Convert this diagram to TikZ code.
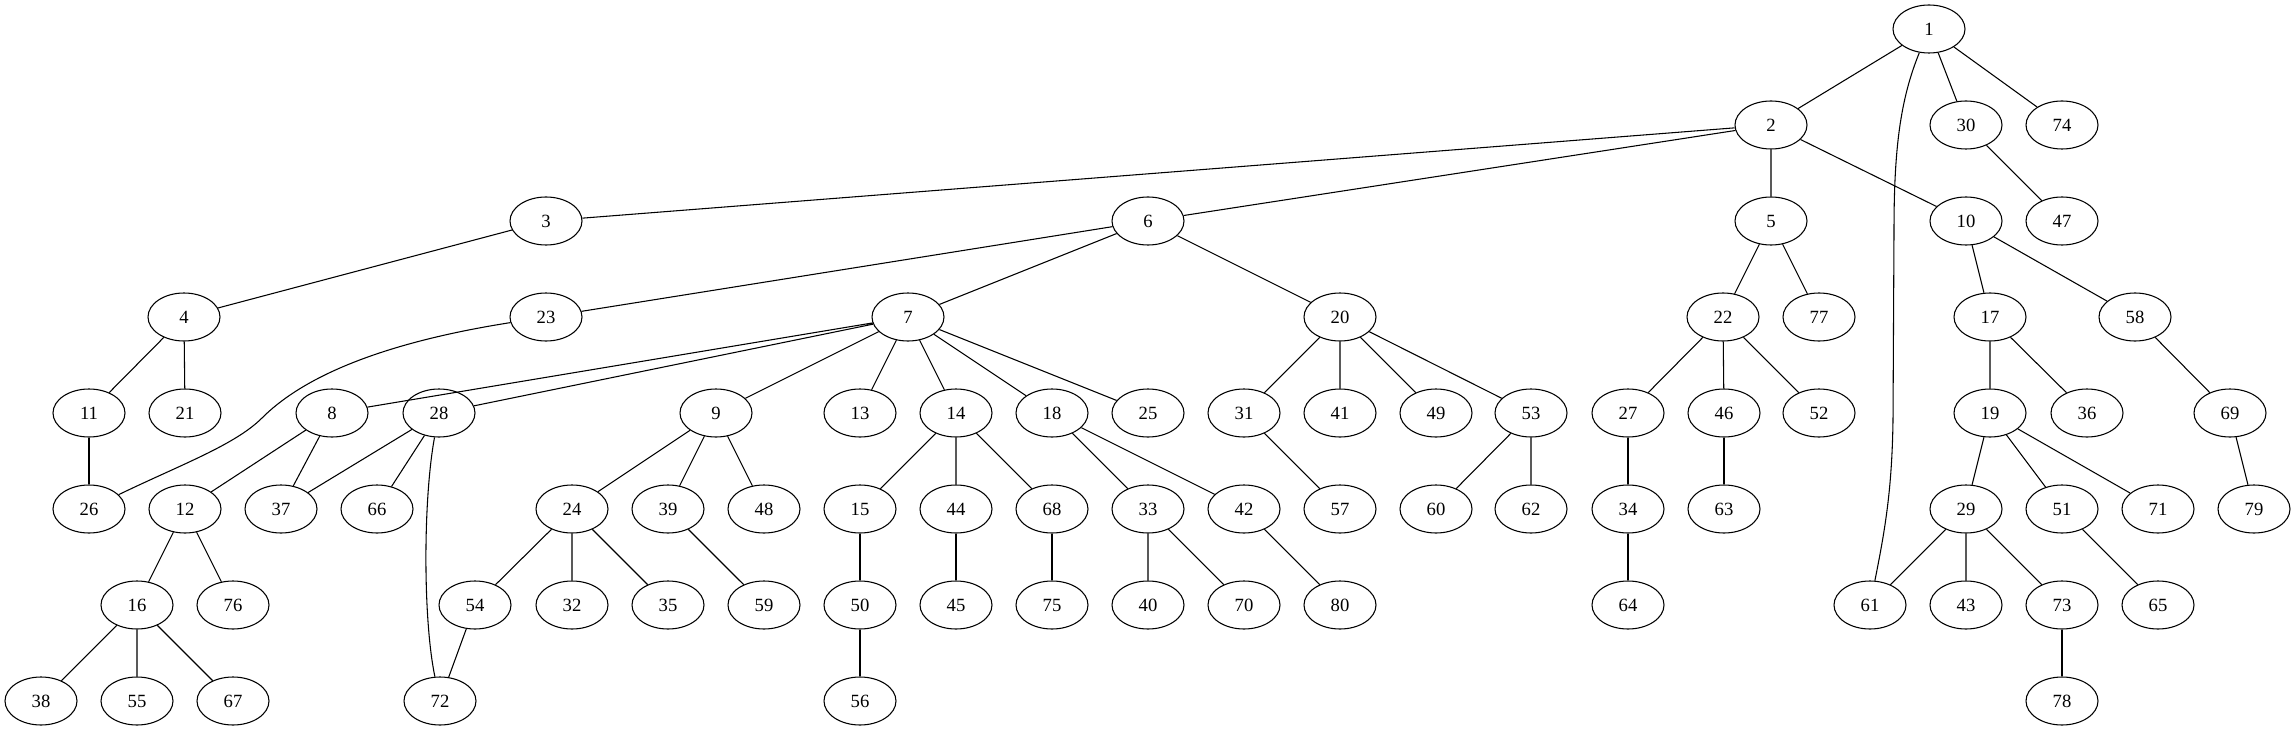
\documentclass[tikz,border=0pt]{standalone}
\usepackage{fontspec}
\setmainfont{Liberation Serif}
\usepackage{tikz}
\usetikzlibrary{shapes.geometric}

\begin{document}
\begin{tikzpicture}[x=0.75pt, y=-0.75pt,
    vertex/.style={ellipse, draw, line width=0.8pt, minimum width=54pt, minimum height=36pt, inner sep=0pt, font=\fontsize{14}{16}\selectfont},
    treeline/.style={line width=0.8pt}]
    \useasboundingbox (0,0) rectangle (2296,731);

    % Rank 0
    \node[vertex] (n1) at (1929,29) {1};

    % Rank 1
    \node[vertex] (n2) at (1771,125) {2};
    \node[vertex] (n30) at (1966,125) {30};
    \node[vertex] (n74) at (2062,125) {74};

    % Rank 2
    \node[vertex] (n3) at (546,221) {3};
    \node[vertex] (n6) at (1148,221) {6};
    \node[vertex] (n5) at (1771,221) {5};
    \node[vertex] (n10) at (1966,221) {10};
    \node[vertex] (n47) at (2062,221) {47};

    % Rank 3
    \node[vertex] (n4) at (184,317) {4};
    \node[vertex] (n23) at (546,317) {23};
    \node[vertex] (n7) at (908,317) {7};
    \node[vertex] (n20) at (1340,317) {20};
    \node[vertex] (n22) at (1723,317) {22};
    \node[vertex] (n77) at (1819,317) {77};
    \node[vertex] (n17) at (1990,317) {17};
    \node[vertex] (n58) at (2135,317) {58};

    % Rank 4
    \node[vertex] (n11) at (89,413) {11};
    \node[vertex] (n21) at (185,413) {21};
    \node[vertex] (n8) at (332,413) {8};
    \node[vertex] (n28) at (439,413) {28};
    \node[vertex] (n9) at (716,413) {9};
    \node[vertex] (n13) at (860,413) {13};
    \node[vertex] (n14) at (956,413) {14};
    \node[vertex] (n18) at (1052,413) {18};
    \node[vertex] (n25) at (1148,413) {25};
    \node[vertex] (n31) at (1244,413) {31};
    \node[vertex] (n41) at (1340,413) {41};
    \node[vertex] (n49) at (1436,413) {49};
    \node[vertex] (n53) at (1531,413) {53};
    \node[vertex] (n27) at (1628,413) {27};
    \node[vertex] (n46) at (1724,413) {46};
    \node[vertex] (n52) at (1819,413) {52};
    \node[vertex] (n19) at (1990,413) {19};
    \node[vertex] (n36) at (2087,413) {36};
    \node[vertex] (n69) at (2230,413) {69};

    % Rank 5
    \node[vertex] (n26) at (89,509) {26};
    \node[vertex] (n12) at (185,509) {12};
    \node[vertex] (n37) at (281,509) {37};
    \node[vertex] (n66) at (377,509) {66};
    \node[vertex] (n24) at (572,509) {24};
    \node[vertex] (n39) at (668,509) {39};
    \node[vertex] (n48) at (764,509) {48};
    \node[vertex] (n15) at (860,509) {15};
    \node[vertex] (n44) at (956,509) {44};
    \node[vertex] (n68) at (1052,509) {68};
    \node[vertex] (n33) at (1148,509) {33};
    \node[vertex] (n42) at (1244,509) {42};
    \node[vertex] (n57) at (1340,509) {57};
    \node[vertex] (n60) at (1436,509) {60};
    \node[vertex] (n62) at (1531,509) {62};
    \node[vertex] (n34) at (1628,509) {34};
    \node[vertex] (n63) at (1724,509) {63};
    \node[vertex] (n29) at (1966,509) {29};
    \node[vertex] (n51) at (2062,509) {51};
    \node[vertex] (n71) at (2158,509) {71};
    \node[vertex] (n79) at (2254,509) {79};

    % Rank 6
    \node[vertex] (n16) at (137,605) {16};
    \node[vertex] (n76) at (233,605) {76};
    \node[vertex] (n54) at (475,605) {54};
    \node[vertex] (n32) at (572,605) {32};
    \node[vertex] (n35) at (668,605) {35};
    \node[vertex] (n59) at (764,605) {59};
    \node[vertex] (n50) at (860,605) {50};
    \node[vertex] (n45) at (956,605) {45};
    \node[vertex] (n75) at (1052,605) {75};
    \node[vertex] (n40) at (1148,605) {40};
    \node[vertex] (n70) at (1244,605) {70};
    \node[vertex] (n80) at (1340,605) {80};
    \node[vertex] (n64) at (1628,605) {64};
    \node[vertex] (n61) at (1870,605) {61};
    \node[vertex] (n43) at (1966,605) {43};
    \node[vertex] (n73) at (2062,605) {73};
    \node[vertex] (n65) at (2158,605) {65};

    % Rank 7
    \node[vertex] (n38) at (41,701) {38};
    \node[vertex] (n55) at (137,701) {55};
    \node[vertex] (n67) at (233,701) {67};
    \node[vertex] (n72) at (440,701) {72};
    \node[vertex] (n56) at (860,701) {56};
    \node[vertex] (n78) at (2062,701) {78};

    % Edges
    \draw[treeline] (n1) -- (n2) (n1) -- (n30) (n1) -- (n74);
    \draw[treeline] (n1) .. controls (1900,100) and (1894,150) .. (1894,230) -- (1893,420) .. controls (1892,490) and (1885,530) .. (n61);
    \draw[treeline] (n2) -- (n3) (n2) -- (n6) (n2) -- (n5) (n2) -- (n10);
    \draw[treeline] (n30) -- (n47);
    \draw[treeline] (n3) -- (n4);
    \draw[treeline] (n6) -- (n23) (n6) -- (n7) (n6) -- (n20);
    \draw[treeline] (n5) -- (n22) (n5) -- (n77);
    \draw[treeline] (n10) -- (n17) (n10) -- (n58);
    \draw[treeline] (n4) -- (n11) (n4) -- (n21);
    \draw[treeline] (n23) .. controls (400,340) and (310,370) .. (262,418) .. controls (235,445) and (180,465) .. (n26);
    \draw[treeline] (n7) -- (n8) (n7) -- (n28) (n7) -- (n9) (n7) -- (n13) (n7) -- (n14) (n7) -- (n18) (n7) -- (n25);
    \draw[treeline] (n20) -- (n31) (n20) -- (n41) (n20) -- (n49) (n20) -- (n53);
    \draw[treeline] (n22) -- (n27) (n22) -- (n46) (n22) -- (n52);
    \draw[treeline] (n17) -- (n19) (n17) -- (n36);
    \draw[treeline] (n58) -- (n69);
    \draw[treeline] (n11) -- (n26);
    \draw[treeline] (n8) -- (n12) (n8) -- (n37);
    \draw[treeline] (n28) -- (n37) (n28) -- (n66);
    \draw[treeline] (n28) .. controls (423,500) and (423,620) .. (n72);
    \draw[treeline] (n9) -- (n24) (n9) -- (n39) (n9) -- (n48);
    \draw[treeline] (n14) -- (n15) (n14) -- (n44) (n14) -- (n68);
    \draw[treeline] (n18) -- (n33) (n18) -- (n42);
    \draw[treeline] (n31) -- (n57);
    \draw[treeline] (n53) -- (n60) (n53) -- (n62);
    \draw[treeline] (n27) -- (n34);
    \draw[treeline] (n46) -- (n63);
    \draw[treeline] (n19) -- (n29) (n19) -- (n51) (n19) -- (n71);
    \draw[treeline] (n69) -- (n79);
    \draw[treeline] (n12) -- (n16) (n12) -- (n76);
    \draw[treeline] (n24) -- (n54) (n24) -- (n32) (n24) -- (n35);
    \draw[treeline] (n39) -- (n59);
    \draw[treeline] (n15) -- (n50);
    \draw[treeline] (n44) -- (n45);
    \draw[treeline] (n68) -- (n75);
    \draw[treeline] (n33) -- (n40) (n33) -- (n70);
    \draw[treeline] (n42) -- (n80);
    \draw[treeline] (n34) -- (n64);
    \draw[treeline] (n29) -- (n61) (n29) -- (n43) (n29) -- (n73);
    \draw[treeline] (n51) -- (n65);
    \draw[treeline] (n16) -- (n38) (n16) -- (n55) (n16) -- (n67);
    \draw[treeline] (n54) -- (n72);
    \draw[treeline] (n50) -- (n56);
    \draw[treeline] (n73) -- (n78);
\end{tikzpicture}
\end{document}
